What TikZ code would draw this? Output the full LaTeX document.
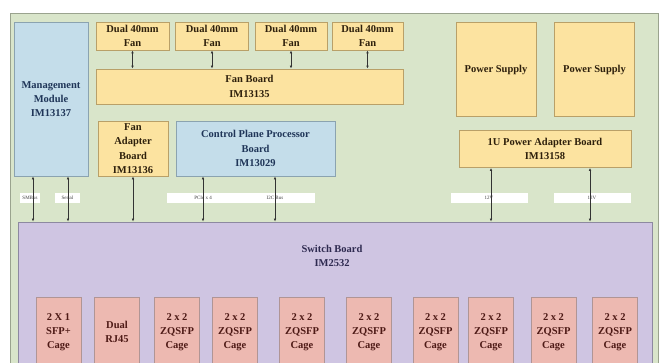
\documentclass[tikz,border=0pt]{standalone}
\usepackage{fontspec}
\setmainfont{Liberation Serif}
\usetikzlibrary{arrows.meta}
\definecolor{bgGreen}{HTML}{D9E5CA}
\definecolor{frameLine}{HTML}{9AA38E}
\definecolor{fanFill}{HTML}{FCE3A0}
\definecolor{fanLine}{HTML}{B9A068}
\definecolor{fanText}{HTML}{2E200C}
\definecolor{blueFill}{HTML}{C4DDEA}
\definecolor{blueLine}{HTML}{8BA3B0}
\definecolor{blueText}{HTML}{1F3558}
\definecolor{switchFill}{HTML}{CFC5E2}
\definecolor{switchLine}{HTML}{8D89A0}
\definecolor{switchText}{HTML}{2E2A50}
\definecolor{cageFill}{HTML}{EDB9B1}
\definecolor{cageLine}{HTML}{B09595}
\definecolor{cageText}{HTML}{4E1A16}
\newcommand{\boxfont}{\fontsize{10.5}{14.3}\selectfont\bfseries}
\newcommand{\busfont}{\fontsize{5}{5.5}\selectfont}
\tikzstyle{fanBox}=[shape = rectangle, draw = fanLine, fill = fanFill, line width = 0.8pt, inner sep = 0pt, align = center, font = \boxfont, text = fanText]
\tikzstyle{blueBox}=[shape = rectangle, draw = blueLine, fill = blueFill, line width = 0.8pt, inner sep = 0pt, align = center, font = \boxfont, text = blueText]
\tikzstyle{cageBox}=[shape = rectangle, draw = cageLine, fill = cageFill, line width = 0.8pt, inner sep = 0pt, align = center, font = \boxfont, text = cageText, minimum width = 45pt, minimum height = 70pt]

\begin{document}
\begin{tikzpicture}[x = 1pt, y = -1pt]
\tikzstyle{busStrip}=[shape = rectangle, fill = white, inner sep = 0pt, minimum height = 10pt]
\tikzstyle{busLabel}=[inner sep = 0.5pt, font = \busfont, text = black!75]
\tikzstyle{link}=[{Latex[length=3pt,width=2.6pt]}-{Latex[length=3pt,width=2.6pt]}, line width = 0.6pt, draw = black!80]
\useasboundingbox (0,0) rectangle (660,362);
\fill[white] (0,0) rectangle (660,362);
\filldraw[fill = bgGreen, draw = frameLine, line width = 0.8pt] (10,13) rectangle (658,370);
\node[blueBox, minimum width = 74pt, minimum height = 154pt] (mgmt) at (51,99) {Management\\Module\\IM13137};
\node[fanBox, minimum width = 73pt, minimum height = 28pt] (fan1) at (132.5,36) {Dual 40mm\\Fan};
\node[fanBox, minimum width = 73pt, minimum height = 28pt] (fan2) at (212,36) {Dual 40mm\\Fan};
\node[fanBox, minimum width = 72pt, minimum height = 28pt] (fan3) at (291,36) {Dual 40mm\\Fan};
\node[fanBox, minimum width = 71pt, minimum height = 28pt] (fan4) at (367.5,36) {Dual 40mm\\Fan};
\node[fanBox, minimum width = 307pt, minimum height = 35pt] (fanboard) at (249.5,86.5) {Fan Board\\IM13135};
\node[fanBox, minimum width = 70pt, minimum height = 55pt] (fanadapter) at (133,148.5) {Fan\\Adapter\\Board\\IM13136};
\node[blueBox, minimum width = 159pt, minimum height = 55pt] (cpp) at (255.5,148.5) {Control Plane Processor\\Board\\IM13029};
\node[fanBox, minimum width = 80pt, minimum height = 94pt] (psu1) at (496,69.5) {Power Supply};
\node[fanBox, minimum width = 80pt, minimum height = 94pt] (psu2) at (594.5,69.5) {Power Supply};
\node[fanBox, minimum width = 172pt, minimum height = 37pt] (pab) at (545,149) {1U Power Adapter Board\\IM13158};
\node[shape = rectangle, draw = switchLine, fill = switchFill, line width = 0.8pt, minimum width = 634pt, minimum height = 150pt] (switch) at (335,297) {};
\node[font = \boxfont, text = switchText, align = center] (switchtitle) at (332,256) {Switch Board\\IM2532};
\node[cageBox] (cage1) at (58.5,332) {2 X 1\\SFP+\\Cage};
\node[cageBox] (cage2) at (117,332) {Dual\\RJ45};
\node[cageBox] (cage3) at (177,332) {2 x 2\\ZQSFP\\Cage};
\node[cageBox] (cage4) at (235,332) {2 x 2\\ZQSFP\\Cage};
\node[cageBox] (cage5) at (302,332) {2 x 2\\ZQSFP\\Cage};
\node[cageBox] (cage6) at (369,332) {2 x 2\\ZQSFP\\Cage};
\node[cageBox] (cage7) at (435.5,332) {2 x 2\\ZQSFP\\Cage};
\node[cageBox] (cage8) at (491,332) {2 x 2\\ZQSFP\\Cage};
\node[cageBox] (cage9) at (553.5,332) {2 x 2\\ZQSFP\\Cage};
\node[cageBox] (cage10) at (615,332) {2 x 2\\ZQSFP\\Cage};
\node[busStrip, minimum width = 20pt] (strip1) at (30,198) {};
\node[busStrip, minimum width = 25pt] (strip2) at (67.5,198) {};
\node[busStrip, minimum width = 148pt] (strip3) at (241,198) {};
\node[busStrip, minimum width = 77pt] (strip4) at (489,198) {};
\node[busStrip, minimum width = 77pt] (strip5) at (592,198) {};
\node[busLabel] (bus1) at (strip1) {SMBus};
\node[busLabel] (bus2) at (strip2) {Serial};
\node[busLabel] (bus3) at (203,198) {PCIe x 4};
\node[busLabel] (bus4) at (275,198) {I2C Bus};
\node[busLabel] (bus5) at (strip4) {12V};
\node[busLabel] (bus6) at (strip5) {12V};
\draw[link] (fan1.south) -- (fan1.south |- fanboard.north);
\draw[link] (fan2.south) -- (fan2.south |- fanboard.north);
\draw[link] (fan3.south) -- (fan3.south |- fanboard.north);
\draw[link] (fan4.south) -- (fan4.south |- fanboard.north);
\draw[link] ([xshift=-18pt]mgmt.south) -- ([xshift=-18pt]mgmt.south |- switch.north);
\draw[link] ([xshift=17pt]mgmt.south) -- ([xshift=17pt]mgmt.south |- switch.north);
\draw[link] (fanadapter.south) -- (fanadapter.south |- switch.north);
\draw[link] ([xshift=-52.5pt]cpp.south) -- ([xshift=-52.5pt]cpp.south |- switch.north);
\draw[link] ([xshift=19.5pt]cpp.south) -- ([xshift=19.5pt]cpp.south |- switch.north);
\draw[link] ([xshift=-54pt]pab.south) -- ([xshift=-54pt]pab.south |- switch.north);
\draw[link] ([xshift=45pt]pab.south) -- ([xshift=45pt]pab.south |- switch.north);
\end{tikzpicture}
\end{document}
